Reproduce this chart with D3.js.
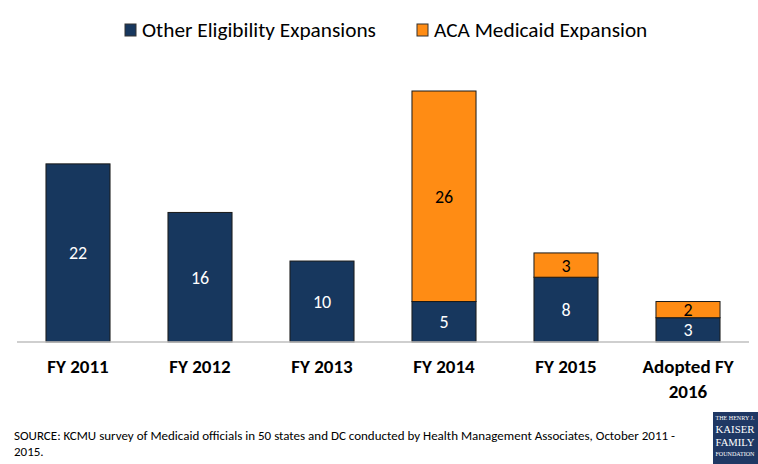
<!DOCTYPE html>
<html>
<head>
<meta charset="utf-8">
<script src="https://cdn.jsdelivr.net/npm/d3@7"></script>
<style>
  body { margin: 0; background: #fff; }
  text { font-family: Carlito, "Liberation Sans Narrow", "Open Sans", sans-serif; }
</style>
</head>
<body>
<script>
const width = 758;
const height = 464;

var years = ["FY 2011", "FY 2012", "FY 2013", "FY 2014", "FY 2015", "Adopted FY 2016"];
var other_exp = [22, 16, 10, 5, 8, 3];
var aca_exp = [0, 0, 0, 26, 3, 2];
var series_names = ["Other Eligibility Expansions", "ACA Medicaid Expansion"];
var colors = ["#17375e", "#ff8c14"];

var svg = d3.select("body")
    .append("svg")
    .attr("width", width)
    .attr("height", height);

var table = years.map(function(d, i){
  return {year: d, other: other_exp[i], aca: aca_exp[i]};
});
var stack = d3.stack().keys(["other", "aca"])(table);

var xScale = d3.scaleBand().domain(years).range([17, 749]).paddingInner(0.475).paddingOuter(0.2375);
var yScale = d3.scaleLinear().domain([0, 31]).range([342, 91]);

// bars
var layers = svg.selectAll(".layer")
  .data(stack)
  .enter()
  .append("g")
  .attr("class", "layer")
  .attr("fill", (d, i) => colors[i]);

layers.selectAll("rect")
  .data(d => d.filter(s => s[1] - s[0] > 0))
  .enter()
  .append("rect")
  .attr("x", d => xScale(d.data.year))
  .attr("y", d => yScale(d[1]))
  .attr("width", xScale.bandwidth())
  .attr("height", d => yScale(d[0]) - yScale(d[1]))
  .attr("stroke", "#1a1a1a")
  .attr("stroke-width", 1);

// value labels
stack.forEach(function(layer, li){
  svg.selectAll(".val" + li)
    .data(layer.filter(s => s[1] - s[0] > 0))
    .enter()
    .append("text")
    .attr("x", d => xScale(d.data.year) + xScale.bandwidth() / 2)
    .attr("y", d => (yScale(d[0]) + yScale(d[1])) / 2)
    .attr("dy", "0.36em")
    .attr("text-anchor", "middle")
    .attr("font-size", 18)
    .attr("fill", li == 0 ? "#fff" : "#000")
    .text(d => d[1] - d[0]);
});

// axis
svg.append("line")
  .attr("x1", 17).attr("x2", 749)
  .attr("y1", yScale(0)).attr("y2", yScale(0))
  .attr("stroke", "#bfbfbf")
  .attr("stroke-width", 1.5);

var xAxis = svg.append("g").attr("class", "x_labels");
years.forEach(function(d){
  var words = d.indexOf("Adopted") == 0 ? ["Adopted FY", "2016"] : [d];
  var t = xAxis.append("text")
    .attr("x", xScale(d) + xScale.bandwidth() / 2)
    .attr("y", 373)
    .attr("text-anchor", "middle")
    .attr("font-size", 19)
    .attr("font-weight", "bold")
    .attr("fill", "#000");
  words.forEach(function(w, i){
    t.append("tspan")
      .attr("x", xScale(d) + xScale.bandwidth() / 2)
      .attr("dy", i == 0 ? 0 : 25)
      .text(w);
  });
});

// legend
var legend_x = [125, 417];
var legend = svg.append("g").attr("class", "legend");
series_names.forEach(function(d, i){
  legend.append("rect")
    .attr("x", legend_x[i])
    .attr("y", 24)
    .attr("width", 11)
    .attr("height", 12)
    .attr("fill", colors[i])
    .attr("stroke", "#333")
    .attr("stroke-width", 1);
  legend.append("text")
    .attr("x", legend_x[i] + 17)
    .attr("y", 37)
    .attr("font-size", 21.3)
    .attr("fill", "#000")
    .text(d);
});

// source note
var note = svg.append("text")
  .attr("x", 14)
  .attr("y", 440)
  .attr("font-size", 13)
  .attr("fill", "#000");
note.append("tspan").attr("x", 14).text("SOURCE: KCMU survey of Medicaid officials in 50 states and DC conducted by Health Management Associates, October 2011 -");
note.append("tspan").attr("x", 14).attr("dy", 16).text("2015.");

// logo
var logo = svg.append("g").attr("transform", "translate(713,412)");
logo.append("rect").attr("width", 45).attr("height", 52).attr("fill", "#1f3864");
var logo_lines = [["THE HENRY J.", 5.5, 8], ["KAISER", 10.5, 21], ["FAMILY", 10.5, 34], ["FOUNDATION", 5.5, 44]];
logo_lines.forEach(function(l){
  logo.append("text")
    .attr("x", 2.5)
    .attr("y", l[2])
    .attr("textLength", 39)
    .attr("lengthAdjust", "spacingAndGlyphs")
    .style("font-family", "'Liberation Serif', serif")
    .attr("font-size", l[1])
    .attr("fill", "#fff")
    .text(l[0]);
});
</script>
</body>
</html>
